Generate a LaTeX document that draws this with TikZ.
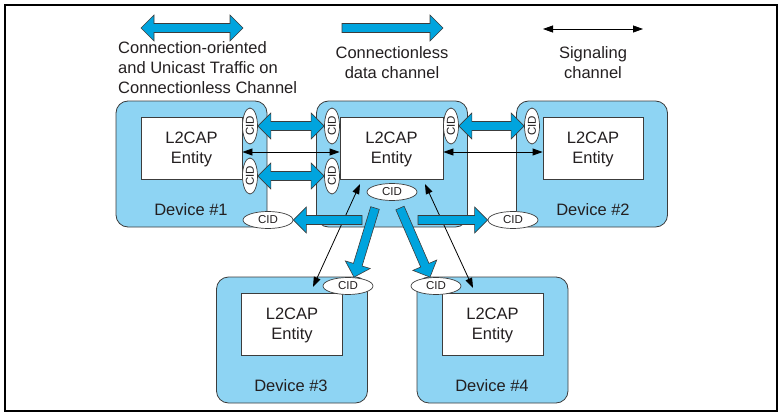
\documentclass[tikz,border=0pt]{standalone}
\usepackage{fontspec}
\setmainfont{Liberation Sans}
\usetikzlibrary{shapes.geometric,calc,arrows.meta}
\definecolor{devblue}{RGB}{142,212,243}
\definecolor{arrblue}{RGB}{0,164,222}
\definecolor{edgec}{RGB}{60,60,60}
\definecolor{txtc}{RGB}{35,31,32}
\newcommand\fatsingle[2]{%
  \filldraw[fatarrow] ($(#1)!4.5pt!90:(#2)$) --
    ($(#2)!13pt!(#1)!4.5pt!-90:(#1)$) --
    ($(#2)!13pt!(#1)!13pt!-90:(#1)$) --
    (#2) --
    ($(#2)!13pt!(#1)!13pt!90:(#1)$) --
    ($(#2)!13pt!(#1)!4.5pt!90:(#1)$) --
    ($(#1)!4.5pt!-90:(#2)$) -- cycle;}
\newcommand\fatdouble[2]{%
  \filldraw[fatarrow] (#1) --
    ($(#1)!13pt!(#2)!13pt!90:(#2)$) --
    ($(#1)!13pt!(#2)!4.5pt!90:(#2)$) --
    ($(#2)!13pt!(#1)!4.5pt!-90:(#1)$) --
    ($(#2)!13pt!(#1)!13pt!-90:(#1)$) --
    (#2) --
    ($(#2)!13pt!(#1)!13pt!90:(#1)$) --
    ($(#2)!13pt!(#1)!4.5pt!90:(#1)$) --
    ($(#1)!13pt!(#2)!4.5pt!-90:(#2)$) --
    ($(#1)!13pt!(#2)!13pt!-90:(#2)$) -- cycle;}
\begin{document}
\begin{tikzpicture}[x=1pt,y=-1pt,
  device/.style={draw=edgec,fill=devblue,rounded corners=12pt,line width=0.8pt,
    minimum width=151pt,minimum height=126pt,inner sep=0pt},
  entitytext/.style={align=center,inner sep=0pt,
    font=\fontsize{16.5}{20}\selectfont,text=txtc},
  entity/.style={draw=edgec,fill=white,line width=0.8pt,
    minimum width=101pt,minimum height=62pt,inner sep=0pt,
    label={[entitytext,yshift=-1.5pt]center:L2CAP\\Entity}},
  devlabel/.style={font=\fontsize{16.5}{20}\selectfont,text=txtc,inner sep=0pt},
  cidv/.style={ellipse,draw=edgec,fill=white,line width=0.7pt,inner sep=0pt,
    minimum width=15pt,minimum height=36pt,font=\fontsize{11.5}{13}\selectfont,text=txtc},
  cidh/.style={ellipse,draw=edgec,fill=white,line width=0.7pt,inner sep=0pt,
    minimum width=50pt,minimum height=17pt,font=\fontsize{11.5}{13}\selectfont,text=txtc},
  fatarrow/.style={draw=edgec,fill=arrblue,line width=0.6pt,line join=miter},
  sig/.style={draw=black,line width=0.8pt,
    {Triangle[length=10pt,width=7pt]}-{Triangle[length=10pt,width=7pt]}},
  legend/.style={font=\fontsize{16.5}{20}\selectfont,text=txtc,inner sep=0pt}]
\useasboundingbox (0,0) rectangle (780,415);
\draw[line width=1.6pt] (5,5) rectangle (777,411);

% devices
\node[device] (d1) at (191.5,164) {};
\node[device] (d0) at (392,164) {};
\node[device] (d2) at (592,164) {};
\node[device] (d3) at (292,340) {};
\node[device] (d4) at (492.5,340) {};

\node[entity] (e1) at (191.5,148) {};
\node[entity,minimum width=103pt] (e0) at (391.5,148) {};
\node[entity,minimum width=100pt] (e2) at (593,148) {};
\node[entity] (e3) at (292,324) {};
\node[entity] (e4) at (492.5,324) {};

\node[devlabel] (l1) at (191,210) {Device \#1};
\node[devlabel] (l2) at (593,210) {Device \#2};
\node[devlabel] (l3) at (291,386) {Device \#3};
\node[devlabel] (l4) at (492,386) {Device \#4};

% CIDs
\node[cidv] (c1a) at (250,126) {\rotatebox{90}{CID}};
\node[cidv] (c1b) at (250,176) {\rotatebox{90}{CID}};
\node[cidv] (c0a) at (332,126) {\rotatebox{90}{CID}};
\node[cidv] (c0b) at (332,176) {\rotatebox{90}{CID}};
\node[cidv] (c0c) at (451,126) {\rotatebox{90}{CID}};
\node[cidv] (c2a) at (532,126) {\rotatebox{90}{CID}};
\node[cidh] (cc) at (392,192) {CID};
\node[cidh] (cl) at (268,220) {CID};
\node[cidh] (cr) at (513,220) {CID};
\node[cidh] (c3) at (348,286) {CID};
\node[cidh] (c4) at (436,286) {CID};

% signaling arrows
\draw[sig] ($(e1.east)+(0,4)$) -- ($(e0.west)+(0,4)$);
\draw[sig] ($(e0.east)+(0,4)$) -- ($(e2.west)+(0,4)$);
\coordinate (s3a) at (313,287);
\coordinate (s3b) at (360,184);
\coordinate (s4a) at (473,288);
\coordinate (s4b) at (425,184);
\draw[sig] (s3a) -- (s3b);
\draw[sig] (s4a) -- (s4b);

% fat arrows
\fatdouble{c1a.east}{c0a.west}
\fatdouble{c1b.east}{c0b.west}
\fatdouble{c0c.east}{c2a.west}
\coordinate (tl) at (362,220);
\coordinate (tr) at (418,220);
\coordinate (t3) at (375,208);
\coordinate (t4) at (400,208);
\coordinate (h3) at ($(c3.north)+(6,0)$);
\coordinate (h4) at ($(c4.north)+(-6,0)$);
\fatsingle{tl}{cl.east}
\fatsingle{tr}{cr.west}
\fatsingle{t3}{h3}
\fatsingle{t4}{h4}

% legend
\coordinate (ga) at (141,28);
\coordinate (gb) at (243,28);
\coordinate (gc) at (342,28);
\coordinate (gd) at (443,28);
\coordinate (ge) at (543,29);
\coordinate (gf) at (643,29);
\fatdouble{ga}{gb}
\fatsingle{gc}{gd}
\draw[sig] (ge) -- (gf);
\node[legend,align=left,anchor=north west] (t1) at (118,41) {Connection-oriented\\and Unicast Traffic on\\Connectionless Channel};
\node[legend,align=center,anchor=north] (t2) at (392,46) {Connectionless\\data channel};
\node[legend,align=center,anchor=north] (t3) at (593,46) {Signaling\\channel};
\end{tikzpicture}
\end{document}
